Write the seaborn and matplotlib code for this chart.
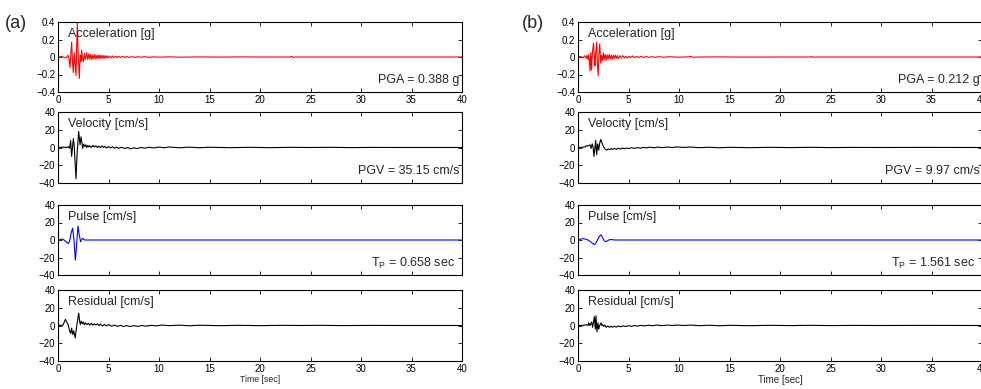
import numpy as np
import pandas as pd
import matplotlib
matplotlib.use("Agg")
import matplotlib.pyplot as plt
import seaborn as sns

# ---- data (time [s], value) ----
acc_a = [(0.0, 0.0), (0.4, 0.005), (0.8, -0.01), (1.0, 0.02), (1.1, -0.03), (1.19, -0.12), (1.27, 0.04),
         (1.35, 0.17), (1.43, -0.05), (1.52, -0.18), (1.6, 0.05), (1.68, -0.06), (1.78, -0.21), (1.85, 0.12),
         (1.91, 0.388), (2.0, 0.03), (2.11, -0.245), (2.2, 0.02), (2.27, -0.05), (2.34, 0.08), (2.42, -0.02),
         (2.51, -0.05), (2.6, 0.04), (2.7, -0.03), (2.84, 0.05), (2.95, -0.03), (3.05, 0.035), (3.15, -0.025),
         (3.25, 0.03), (3.35, -0.03), (3.45, 0.025), (3.55, -0.02), (3.65, 0.03), (3.75, -0.025), (3.85, 0.02),
         (3.95, -0.02), (4.05, 0.025), (4.15, -0.02), (4.25, 0.02), (4.35, -0.015), (4.45, 0.02), (4.55, -0.018),
         (4.65, 0.015), (4.75, -0.012), (4.85, 0.015), (4.95, -0.012), (5.1, 0.012), (5.25, -0.01), (5.4, 0.012),
         (5.55, -0.008), (5.7, 0.01), (5.85, -0.008), (6.0, 0.008), (6.2, -0.007), (6.4, 0.008), (6.6, -0.006),
         (6.8, 0.006), (7.0, -0.005), (7.3, 0.005), (7.6, -0.004), (7.9, 0.004), (8.2, -0.003), (8.6, 0.003),
         (9.0, -0.003), (9.5, 0.002), (10.0, -0.002), (11.0, 0.002), (12.0, -0.002), (14.0, 0.001),
         (16.0, -0.001), (18.0, 0.001), (20.0, 0.0), (23.0, 0.0), (23.15, 0.008), (23.3, -0.005), (23.5, 0.0),
         (28.0, 0.0), (34.0, 0.0), (40.0, 0.0)]

vel_a = [(0.0, 0.0), (0.5, 0.3), (0.86, 0.0), (1.0, 1.0), (1.15, -1.0), (1.25, 8.0), (1.35, -10.0), (1.52, 10.0),
         (1.6, 3.0), (1.78, -35.15), (1.9, -5.0), (2.05, 18.0), (2.18, 3.0), (2.28, 12.0), (2.44, -1.0), (2.55, 4.0),
         (2.65, 1.0), (2.75, 3.0), (2.85, 0.0), (2.95, 2.5), (3.05, 0.5), (3.15, 2.0), (3.3, 0.0), (3.45, 2.5),
         (3.6, 0.5), (3.75, 2.0), (3.9, 0.0), (4.05, 1.5), (4.2, 0.0), (4.35, 1.8), (4.5, 0.0), (4.65, 1.2),
         (4.8, -0.5), (5.0, 1.0), (5.2, -0.5), (5.4, 0.8), (5.6, -0.8), (5.8, 0.5), (6.0, -1.0), (6.3, 0.3),
         (6.6, -1.2), (6.9, 0.0), (7.2, -1.5), (7.5, -0.3), (7.8, -1.2), (8.2, 0.0), (8.6, -0.8), (9.0, 0.3),
         (9.5, -0.5), (10.0, 0.5), (10.5, -0.3), (11.0, 0.6), (12.0, -0.3), (13.0, 0.4), (14.0, -0.3), (15.0, 0.3),
         (17.0, -0.2), (19.0, 0.2), (21.0, -0.2), (23.0, 0.2), (25.0, 0.0), (27.0, 0.2), (29.0, -0.1), (31.0, 0.1),
         (34.0, 0.0), (40.0, 0.0)]

pulse_a = [(0.0, 0.0), (0.2, 0.5), (0.36, 1.0), (0.55, 0.5), (0.75, -1.5), (1.02, -4.0), (1.15, -1.0), (1.3, 8.0),
           (1.45, 13.5), (1.58, 0.0), (1.72, -23.0), (1.85, -4.0), (1.98, 16.0), (2.1, 6.0), (2.24, -2.0),
           (2.34, 0.5), (2.44, 2.0), (2.55, 0.5), (2.67, 0.0), (40.0, 0.0)]

res_a = [(0.0, 0.0), (0.5, 0.5), (0.74, 7.0), (0.9, 3.0), (1.0, 1.0), (1.15, -6.0), (1.25, -9.0), (1.35, -3.0),
         (1.45, -10.0), (1.55, -6.0), (1.7, -14.0), (1.8, -5.0), (1.9, 3.0), (2.05, 14.0), (2.15, 4.0), (2.22, 1.0),
         (2.3, 5.0), (2.4, 2.0), (2.5, 4.0), (2.6, 1.0), (2.72, 3.0), (2.85, 1.0), (3.0, 2.5), (3.15, 0.5),
         (3.3, 2.5), (3.45, 0.5), (3.6, 2.0), (3.75, 0.5), (3.9, 2.0), (4.05, 0.0), (4.2, 1.5), (4.4, -0.5),
         (4.6, 1.2), (4.8, -0.5), (5.0, 1.0), (5.3, -0.8), (5.6, 0.5), (5.9, -1.0), (6.2, 0.2), (6.5, -1.2),
         (6.8, 0.0), (7.1, -1.2), (7.5, -0.2), (7.9, -1.0), (8.3, 0.0), (8.7, -0.8), (9.2, 0.2), (9.7, -0.4),
         (10.3, 0.5), (11.0, -0.2), (12.0, 0.4), (13.0, -0.3), (14.0, 0.3), (16.0, -0.2), (18.0, 0.2),
         (20.0, -0.2), (22.0, 0.2), (24.0, 0.0), (26.0, 0.2), (28.0, -0.1), (31.0, 0.1), (34.0, 0.0), (40.0, 0.0)]

acc_b = [(0.0, 0.0), (0.3, 0.005), (0.5, -0.01), (0.65, 0.015), (0.8, -0.015), (0.9, 0.02), (1.0, -0.03),
         (1.08, 0.03), (1.19, -0.16), (1.27, 0.05), (1.35, -0.15), (1.43, 0.06), (1.54, 0.16), (1.62, -0.02),
         (1.68, -0.1), (1.76, 0.05), (1.85, 0.17), (1.92, -0.08), (2.0, -0.212), (2.07, 0.02), (2.15, 0.15),
         (2.25, -0.07), (2.34, 0.02), (2.42, -0.04), (2.51, 0.05), (2.6, -0.03), (2.7, 0.03), (2.8, -0.035),
         (2.9, 0.025), (3.0, -0.02), (3.1, 0.03), (3.2, -0.02), (3.3, 0.02), (3.4, -0.025), (3.5, 0.02),
         (3.6, -0.015), (3.7, 0.02), (3.8, -0.015), (3.9, 0.015), (4.0, -0.02), (4.15, 0.015), (4.3, -0.012),
         (4.45, 0.015), (4.6, -0.012), (4.75, 0.01), (4.9, -0.012), (5.05, 0.01), (5.2, -0.008), (5.4, 0.012),
         (5.6, -0.008), (5.8, 0.008), (6.0, -0.006), (6.25, 0.008), (6.5, -0.006), (6.75, 0.006), (7.0, -0.005),
         (7.3, 0.005), (7.6, -0.004), (8.0, 0.004), (8.5, -0.003), (9.0, 0.003), (10.0, -0.002), (11.0, 0.002),
         (11.2, 0.006), (11.4, -0.003), (12.0, 0.0), (14.0, 0.001), (17.0, -0.001), (20.0, 0.0), (23.0, 0.0),
         (23.15, 0.005), (23.3, -0.003), (23.5, 0.0), (30.0, 0.0), (40.0, 0.0)]

vel_b = [(0.0, 0.0), (0.5, 0.3), (0.66, 0.5), (0.8, 2.0), (0.95, 1.5), (1.1, 2.5), (1.2, 3.0), (1.3, -1.0),
         (1.4, 4.0), (1.5, 0.0), (1.58, -9.97), (1.66, -2.0), (1.75, 8.0), (1.85, -8.0), (1.95, 4.0), (2.05, -3.0),
         (2.15, 5.0), (2.25, 9.0), (2.35, 6.0), (2.45, 3.0), (2.57, 0.0), (2.7, -2.0), (2.84, -3.0), (3.0, -1.5),
         (3.15, -2.5), (3.3, -1.2), (3.45, -2.2), (3.6, -1.0), (3.8, -2.0), (4.0, -0.8), (4.2, -1.8), (4.4, -0.6),
         (4.6, -1.5), (4.8, -0.5), (5.0, -1.2), (5.3, -0.3), (5.6, -1.0), (5.9, 0.0), (6.2, -0.8), (6.5, 0.2),
         (6.8, -0.5), (7.1, 0.4), (7.5, -0.3), (7.9, 0.5), (8.3, -0.2), (8.8, 0.5), (9.3, 0.0), (9.8, 0.6),
         (10.5, 0.1), (11.2, 0.5), (12.0, -0.2), (13.0, 0.3), (14.0, -0.3), (15.0, 0.2), (17.0, -0.2), (19.0, 0.2),
         (21.0, -0.1), (23.0, 0.2), (25.0, -0.1), (27.0, 0.1), (30.0, 0.0), (34.0, 0.1), (40.0, 0.0)]

pulse_b = [(0.0, 0.0), (0.25, 1.0), (0.5, 1.5), (0.75, 1.0), (1.0, 0.0), (1.3, -2.5), (1.5, -4.5), (1.68, -5.0),
           (1.82, -2.5), (1.95, 0.5), (2.1, 4.0), (2.28, 6.0), (2.45, 2.5), (2.6, -1.0), (2.74, -2.0), (2.9, -1.0),
           (3.1, 0.3), (3.3, 0.6), (3.5, 0.2), (3.7, 0.0), (40.0, 0.0)]

res_b = [(0.0, 0.0), (0.6, 0.3), (0.86, 1.0), (1.0, 0.0), (1.06, 3.0), (1.19, 0.0), (1.35, 4.0), (1.45, -2.0),
         (1.62, 10.0), (1.72, -4.0), (1.78, 11.0), (1.88, -7.0), (1.98, 3.0), (2.05, -4.0), (2.11, -1.0),
         (2.2, 1.0), (2.28, 3.0), (2.36, 0.0), (2.44, 1.0), (2.55, -1.0), (2.65, 0.5), (2.8, -2.0), (2.95, -0.5),
         (3.1, -2.0), (3.25, -0.8), (3.4, -2.0), (3.6, -0.8), (3.8, -1.8), (4.0, -0.5), (4.2, -1.5), (4.45, -0.3),
         (4.7, -1.2), (5.0, -0.2), (5.3, -1.0), (5.6, 0.0), (5.9, -0.7), (6.2, 0.2), (6.6, -0.5), (7.0, 0.4),
         (7.4, -0.3), (7.8, 0.5), (8.3, -0.2), (8.8, 0.5), (9.3, 0.0), (9.8, 0.5), (10.5, 0.0), (11.2, 0.5),
         (12.0, -0.2), (13.0, 0.3), (14.0, -0.3), (15.0, 0.2), (17.0, -0.2), (19.0, 0.2), (21.0, -0.1),
         (23.0, 0.2), (25.0, -0.1), (27.0, 0.1), (30.0, 0.0), (34.0, 0.1), (40.0, 0.0)]

panel_titles = ["Acceleration [g]", "Velocity [cm/s]", "Pulse [cm/s]", "Residual [cm/s]"]
notes_a = ["PGA = 0.388 g", "PGV = 35.15 cm/s", "T$_\\mathrm{P}$ = 0.658 sec", None]
notes_b = ["PGA = 0.212 g", "PGV = 9.97 cm/s", "T$_\\mathrm{P}$ = 1.561 sec", None]
line_colors = ["#ff0000", "#000000", "#0000ff", "#000000"]

x_ticks = [0, 5, 10, 15, 20, 25, 30, 35, 40]
acc_ticks = [-0.4, -0.2, 0, 0.2, 0.4]
acc_labels = ["\u22120.4", "\u22120.2", "0", "0.2", "0.4"]
vel_ticks = [-40, -20, 0, 20, 40]
vel_labels = ["\u221240", "\u221220", "0", "20", "40"]

# ---- style ----
sns.set_style("ticks")
plt.rcParams['font.family'] = ['Liberation Sans', 'DejaVu Sans']
plt.rcParams['mathtext.fontset'] = 'custom'
plt.rcParams['mathtext.rm'] = 'Liberation Sans'
plt.rcParams['mathtext.it'] = 'Liberation Sans'

W, H = 981, 389
fig = plt.figure(figsize=(W / 100, H / 100), dpi=100)

rows = [(22, 92), (112, 183), (205, 275), (290, 361)]
col_w = 404
note_x = [0.994, 0.994, 0.982, 0.994]


def draw_column(x0, traces, notes, tag, tag_x, xlabel_size):
    for i, (top, bot) in enumerate(rows):
        ax = fig.add_axes([x0 / W, 1 - bot / H, col_w / W, (bot - top) / H])
        df = pd.DataFrame(traces[i], columns=["t", "v"])
        sns.lineplot(data=df, x="t", y="v", ax=ax, color=line_colors[i], lw=0.8,
                     sort=False, estimator=None)
        ax.set_xlim(0, 40)
        if i == 0:
            ax.set_ylim(-0.4, 0.4)
            ax.set_yticks(acc_ticks)
            ax.set_yticklabels(acc_labels)
        else:
            ax.set_ylim(-40, 40)
            ax.set_yticks(vel_ticks)
            ax.set_yticklabels(vel_labels)
        ax.set_xticks(x_ticks)
        if i in (0, 3):
            ax.set_xticklabels([str(v) for v in x_ticks])
        else:
            ax.set_xticklabels([])
        ax.tick_params(direction="in", length=3, width=0.6, top=True, right=True,
                       labelsize=7, pad=2, colors="black")
        for sp in ax.spines.values():
            sp.set_color("black")
            sp.set_linewidth(0.8)
        ax.set_ylabel("")
        ax.set_xlabel("")
        ax.text(0.025, 0.83, panel_titles[i], transform=ax.transAxes,
                fontsize=9, va="center", ha="left")
        if notes[i]:
            ax.text(note_x[i], 0.17, notes[i], transform=ax.transAxes,
                    fontsize=9, va="center", ha="right")
        if i == 3:
            ax.set_xlabel("Time [sec]", fontsize=xlabel_size, labelpad=1)
    fig.text(tag_x / W, 1 - 23 / H, tag, fontsize=13, va="center", ha="left")


draw_column(58, [acc_a, vel_a, pulse_a, res_a], notes_a, "(a)", 5, 6.3)
draw_column(578, [acc_b, vel_b, pulse_b, res_b], notes_b, "(b)", 522, 7)

fig.savefig("out.png", dpi=100)
